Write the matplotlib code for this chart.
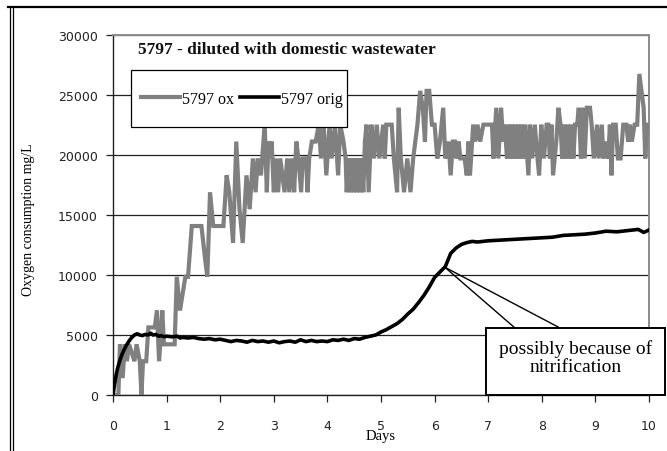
import matplotlib
matplotlib.use("Agg")
import matplotlib.pyplot as plt
from matplotlib.lines import Line2D
from matplotlib.patches import Rectangle

# ---------------- data ----------------
ox_days = [0.00, 0.10, 0.13, 0.18, 0.22, 0.26, 0.30, 0.40, 0.44, 0.50, 0.53, 0.56, 0.62, 0.66, 0.78, 0.82,
           0.86, 0.92, 0.95, 1.15, 1.19, 1.25, 1.30, 1.35, 1.40, 1.47, 1.65, 1.72, 1.76, 1.81, 1.87, 2.06,
           2.12, 2.17, 2.24, 2.30, 2.36, 2.42, 2.49, 2.55, 2.61, 2.66, 2.70, 2.76, 2.83, 2.87, 2.90, 2.93,
           2.96, 3.00, 3.04, 3.08, 3.12, 3.16, 3.20, 3.25, 3.29, 3.33, 3.38, 3.42, 3.46, 3.51, 3.54, 3.60,
           3.63, 3.66, 3.71, 3.78, 3.84, 3.88, 3.93, 3.98, 4.04, 4.08, 4.14, 4.20, 4.24, 4.30, 4.34, 4.36,
           4.40, 4.43, 4.46, 4.49, 4.52, 4.55, 4.58, 4.61, 4.64, 4.67, 4.70, 4.73, 4.77, 4.82, 4.87, 4.92,
           4.97, 5.04, 5.07, 5.10, 5.16, 5.20, 5.24, 5.30, 5.33, 5.37, 5.43, 5.49, 5.55, 5.60, 5.68, 5.73,
           5.78, 5.82, 5.85, 5.90, 5.95, 6.00, 6.05, 6.10, 6.16, 6.20, 6.26, 6.30, 6.34, 6.38, 6.41, 6.45,
           6.48, 6.56, 6.60, 6.63, 6.66, 6.70, 6.72, 6.76, 6.80, 6.85, 6.91, 7.07, 7.10, 7.15, 7.19, 7.24,
           7.28, 7.31, 7.35, 7.38, 7.41, 7.44, 7.47, 7.50, 7.53, 7.56, 7.59, 7.62, 7.66, 7.69, 7.75, 7.78,
           7.82, 7.87, 7.92, 7.95, 7.99, 8.04, 8.09, 8.12, 8.15, 8.18, 8.21, 8.24, 8.27, 8.31, 8.35, 8.38,
           8.41, 8.45, 8.48, 8.52, 8.55, 8.59, 8.62, 8.66, 8.69, 8.73, 8.76, 8.80, 8.84, 8.90, 8.93, 8.97,
           9.03, 9.06, 9.12, 9.15, 9.18, 9.24, 9.27, 9.30, 9.33, 9.38, 9.42, 9.47, 9.52, 9.58, 9.61, 9.64,
           9.68, 9.73, 9.78, 9.82, 9.86, 9.90, 9.93, 9.97, 10.00]
ox_vals = [0, 0, 4224, 1408, 4224, 2816, 4224, 2816, 4224, 2816, 0, 2816, 2816, 5632, 5632, 7040,
           2816, 7040, 4224, 4224, 9856, 7040, 8448, 9856, 9856, 14080, 14080, 11264, 9856, 16896, 14080, 14080,
           18304, 16896, 12672, 21120, 15488, 12672, 18304, 15488, 19712, 16896, 19712, 18304, 22528, 16896, 21120, 19712,
           21120, 16896, 19712, 16896, 19712, 18304, 16896, 19712, 16896, 19712, 16896, 21120, 19712, 16896, 19712, 19712,
           16896, 19712, 21120, 21120, 22528, 19712, 22528, 18304, 22528, 19712, 22528, 18304, 22528, 21120, 19712, 16896,
           19712, 16896, 19712, 16896, 19712, 16896, 19712, 16896, 19712, 16896, 21120, 22528, 16896, 22528, 19712, 22528,
           19712, 22528, 19712, 22528, 22528, 22528, 19712, 16896, 23936, 19712, 16896, 19712, 16896, 19712, 22528, 25344,
           23936, 21120, 25344, 25344, 22528, 22528, 19712, 21120, 23936, 19712, 21120, 18304, 21120, 21120, 19712, 21120,
           19712, 19712, 18304, 21120, 18304, 21120, 22528, 21120, 22528, 21120, 22528, 22528, 19712, 23936, 19712, 23936,
           21120, 22528, 19712, 22528, 19712, 22528, 19712, 22528, 19712, 22528, 19712, 22528, 19712, 22528, 18304, 22528,
           19712, 22528, 19712, 18304, 22528, 19712, 22528, 22528, 19712, 22528, 18304, 19712, 21120, 23936, 22528, 19712,
           22528, 19712, 22528, 19712, 22528, 19712, 22528, 22528, 23936, 19712, 23936, 19712, 23936, 23936, 22528, 19712,
           22528, 19712, 22528, 19712, 21120, 19712, 22528, 18304, 22528, 22528, 19712, 19712, 22528, 22528, 21120, 22528,
           21120, 22528, 22528, 26752, 25344, 23936, 19712, 22528, 22528]

orig_days = [0.00, 0.03, 0.06, 0.09, 0.13, 0.17, 0.21, 0.25, 0.30, 0.35, 0.40, 0.45, 0.50, 0.55, 0.60, 0.65,
             0.70, 0.75, 0.80, 0.85, 0.90, 0.95, 1.0, 1.1, 1.2, 1.25, 1.3, 1.4, 1.5, 1.6, 1.7, 1.8,
             1.9, 2.0, 2.1, 2.2, 2.3, 2.4, 2.5, 2.6, 2.7, 2.8, 2.9, 3.0, 3.1, 3.2, 3.3, 3.4,
             3.5, 3.6, 3.7, 3.8, 3.9, 4.0, 4.1, 4.2, 4.3, 4.4, 4.5, 4.6, 4.7, 4.8, 4.9, 5.0,
             5.1, 5.2, 5.3, 5.4, 5.5, 5.6, 5.7, 5.8, 5.9, 6.0, 6.1, 6.2, 6.3, 6.4, 6.5, 6.6,
             6.7, 6.8, 6.9, 7.0, 7.2, 7.4, 7.6, 7.8, 8.0, 8.2, 8.4, 8.6, 8.8, 9.0, 9.2, 9.4,
             9.6, 9.8, 9.9, 10.0]
orig_vals = [0, 900, 1700, 2300, 2900, 3400, 3800, 4150, 4500, 4800, 5000, 5100, 5000, 4950, 5050, 5000,
             5150, 5000, 5050, 4900, 4950, 4850, 4900, 4850, 4900, 4750, 4800, 4750, 4800, 4700, 4650, 4700,
             4600, 4650, 4550, 4450, 4550, 4500, 4400, 4550, 4450, 4500, 4400, 4500, 4350, 4450, 4500, 4400,
             4600, 4450, 4550, 4450, 4500, 4450, 4600, 4550, 4650, 4550, 4700, 4650, 4800, 4900, 5000, 5250,
             5450, 5700, 5950, 6300, 6750, 7150, 7700, 8300, 9000, 9800, 10250, 10700, 11800, 12250, 12550, 12700,
             12800, 12750, 12800, 12850, 12900, 12950, 13000, 13050, 13100, 13150, 13300, 13350, 13400, 13500, 13650, 13600,
             13700, 13800, 13550, 13750]

series_labels = ["5797 ox", "5797 orig"]
series_colors = ["#808080", "#000000"]
x_ticks = list(range(0, 11))
y_ticks = [0, 5000, 10000, 15000, 20000, 25000, 30000]
title_text = "5797 - diluted with domestic wastewater"
xlabel_text = "Days"
ylabel_text = "Oxygen consumption mg/L"
note_text = "possibly because of\nnitrification"
note_anchor = (6.19, 10650)

# ---------------- figure ----------------
SERIF = "Liberation Serif"
W, H = 667, 452
fig = plt.figure(figsize=(6.67, 4.52), dpi=100)
fig.patch.set_facecolor("white")
ax = fig.add_axes([113/W, 1-396/H, (649-113)/W, (396-36)/H])

ax.plot(ox_days, ox_vals, color=series_colors[0], lw=3.0, label=series_labels[0],
        solid_joinstyle="miter", zorder=3)
ax.plot(orig_days, orig_vals, color=series_colors[1], lw=2.6, label=series_labels[1], zorder=4)

ax.set_xlim(0, 10)
ax.set_ylim(0, 30000)
ax.set_xticks(x_ticks)
ax.set_yticks(y_ticks)
ax.yaxis.grid(True, color="#202020", lw=0.9)
ax.set_axisbelow(True)

for s in ("left", "bottom"):
    ax.spines[s].set_color("#202020")
    ax.spines[s].set_linewidth(1.0)
for s in ("top", "right"):
    ax.spines[s].set_color("#8c8c8c")
    ax.spines[s].set_linewidth(1.4)

ax.tick_params(axis="y", direction="out", length=5, width=0.9, pad=6,
               labelsize=9, labelcolor="#222222", color="#202020")
ax.tick_params(axis="x", direction="out", length=5, width=0.9, pad=12,
               labelsize=9, labelcolor="#222222", color="#202020")
for lab in ax.get_xticklabels() + ax.get_yticklabels():
    lab.set_family("DejaVu Sans")

ax.set_xlabel(xlabel_text, family=SERIF, fontsize=10.5, labelpad=-2)
ax.set_ylabel(ylabel_text, family=SERIF, fontsize=10)
ax.yaxis.set_label_coords(-0.146, 0.49)

fig.text(138/W, 1-50/H, title_text, family=SERIF,
         fontsize=12.5, fontweight="bold", va="center", ha="left", color="#111111")

# legend: frame box drawn as a rectangle, entries centered inside
ax.add_patch(Rectangle((131/W, 1-128/H), (347-131)/W, (128-71)/H, transform=fig.transFigure,
                       facecolor="white", edgecolor="black", lw=0.9, zorder=5, clip_on=False))
leg = ax.legend(loc="center", bbox_to_anchor=(242/W, 1-100/H), bbox_transform=fig.transFigure,
                ncol=2, borderaxespad=0, frameon=False,
                handlelength=2.45, handletextpad=0.12, columnspacing=0.35,
                borderpad=0.1, prop={"family": SERIF, "size": 11.5})
leg.set_zorder(6)

# annotation: box + text + two leader lines
px2day = lambda p: (p - 113) / 53.6
py2val = lambda p: (396 - p) * 30000 / 360
ax.add_patch(Rectangle((px2day(486), py2val(396)), px2day(665) - px2day(486), py2val(329) - py2val(396),
                       facecolor="white", edgecolor="black", lw=1.4, zorder=7, clip_on=False))
ax.text(px2day(575.5), py2val(358), note_text, family=SERIF, fontsize=14, ha="center", va="center",
        linespacing=1.1, zorder=8, clip_on=False)
for px in (515, 560):
    ax.annotate("", xy=note_anchor, xytext=(px2day(px), py2val(329)),
                arrowprops=dict(arrowstyle="-", color="black", lw=1.0, shrinkA=0, shrinkB=0),
                zorder=7)

# outer frame decorations
fig.add_artist(Line2D([8/W, 1.0], [1-8/H, 1-8/H], transform=fig.transFigure,
                      color="black", lw=1.6))
for xp in (9.5, 12.5):
    fig.add_artist(Line2D([xp/W, xp/W], [0, 1-8/H], transform=fig.transFigure,
                          color="black", lw=0.9))

fig.savefig("out.png", dpi=100, facecolor="white")
